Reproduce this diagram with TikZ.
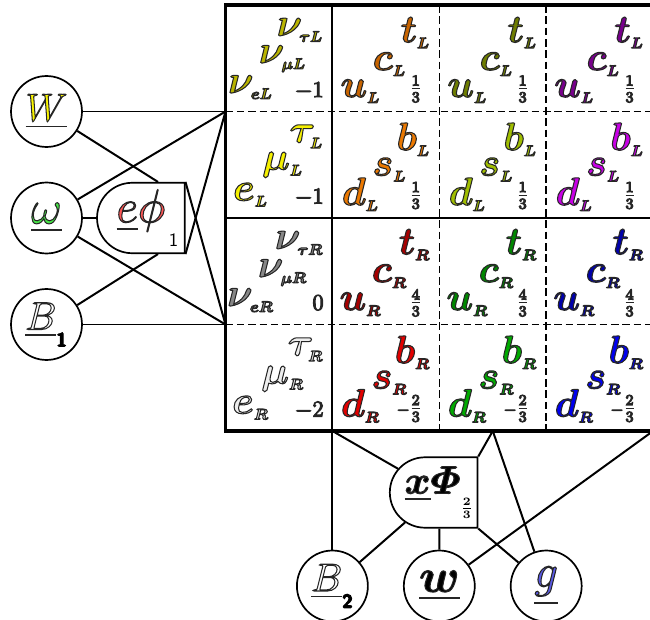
\documentclass[tikz,border=0pt]{standalone}
\usepackage{amsmath,amssymb,xcolor,bm}
\usepackage{tikz}
\usetikzlibrary{calc,shapes.misc}

% outlined coloured glyphs (fill + thin dark stroke)
\newcommand{\olt}[2]{{\color{#1}\special{pdf:literal direct 2 Tr 0.55 w 0.15 0.15 0.15 RG}#2\special{pdf:literal direct 0 Tr}}}
\newcommand{\sbx}[1]{\mbox{\fontsize{8.5}{9}\selectfont$\bm{#1}$}}
\newcommand{\fm}[2]{$\bm{#1}_{\sbx{#2}}$}
\newcommand{\sfx}[2][-4pt]{\raisebox{#1}{\fontsize{10}{10}\selectfont\sffamily #2}}

\begin{document}
\begin{tikzpicture}[x=0.0186cm,y=-0.0186cm,
  boson/.style={circle,draw,line width=.9pt,minimum size=1.32cm,inner sep=0pt,font=\fontsize{20.74}{25}\selectfont},
  big/.style={font=\fontsize{24.88}{30}\selectfont},
  higgs/.style={rounded rectangle,rounded rectangle right arc=none,draw,line width=.9pt,
    minimum width=1.63cm,minimum height=1.31cm,inner sep=0pt,font=\fontsize{20.74}{25}\selectfont},
  link/.style={line width=1.05pt},
  gen/.style={inner sep=0pt,font=\fontsize{20.74}{25}\selectfont},
  chg/.style={inner sep=0pt,font=\fontsize{12}{14}\selectfont},
  frc/.style={inner sep=0pt,font=\fontsize{12}{14}\selectfont}]
\definecolor{nuL}{RGB}{185,180,0}
\definecolor{elL}{RGB}{245,240,0}
\definecolor{nuR}{RGB}{135,135,135}
\definecolor{elR}{RGB}{238,238,238}
\definecolor{redLu}{RGB}{200,100,0}
\definecolor{redLd}{RGB}{235,120,0}
\definecolor{redRu}{RGB}{165,0,0}
\definecolor{redRd}{RGB}{225,0,0}
\definecolor{grnLu}{RGB}{110,125,0}
\definecolor{grnLd}{RGB}{160,190,0}
\definecolor{grnRu}{RGB}{0,135,0}
\definecolor{grnRd}{RGB}{0,170,0}
\definecolor{bluLu}{RGB}{120,0,140}
\definecolor{bluLd}{RGB}{200,0,230}
\definecolor{bluRu}{RGB}{0,0,170}
\definecolor{bluRd}{RGB}{0,0,240}
\definecolor{Wcol}{RGB}{250,245,0}
\definecolor{omcol}{RGB}{70,230,70}
\definecolor{phcol}{RGB}{255,85,85}
\definecolor{gcol}{RGB}{90,90,230}
\definecolor{ink}{RGB}{40,40,40}
\useasboundingbox (0,0) rectangle (650,620);
%% --- table of fermions (4 cells across, 4 down) ---
\draw[line width=.8pt,dash pattern=on 4pt off 2pt] (439.3,5) -- (439.3,431);
\draw[line width=.8pt,dash pattern=on 4pt off 2pt] (546.2,5) -- (546.2,431);
\draw[line width=.8pt,dash pattern=on 4pt off 2pt] (225.5,111.5) -- (653.1,111.5);
\draw[line width=.8pt,dash pattern=on 4pt off 2pt] (225.5,324.5) -- (653.1,324.5);
\draw[line width=1pt] (332.4,5) -- (332.4,431);
\draw[line width=1pt] (225.5,218) -- (653.1,218);
\draw[line width=1.6pt] (225.5,5) rectangle (653.1,431);
\coordinate (lmid) at (225.5,111.5);
\coordinate (rmid) at (225.5,324.5);
\coordinate (qleft) at (332.4,431);
\coordinate (qmid) at (492.8,431);
\coordinate (qright) at (653.1,431);
%% --- leptons ---
\node[gen,anchor=north east] (ntauL) at (323.5,18) {\olt{nuL}{\fm{\nu}{\tau L}}};
\node[gen,anchor=base] (nmuL) at (282.5,63) {\olt{nuL}{\fm{\nu}{\mu L}}};
\node[gen,anchor=base] (neL) at (250.5,93) {\olt{nuL}{\fm{\nu}{eL}}};
\node[chg,anchor=base east] (qnL) at (324,97) {\olt{ink}{$-1$}};
\node[gen,anchor=north east] (tauL) at (323.5,124.5) {\olt{elL}{\fm{\tau}{L}}};
\node[gen,anchor=base] (muL) at (282.5,169.5) {\olt{elL}{\fm{\mu}{L}}};
\node[gen,anchor=base] (eL) at (250.5,200.5) {\olt{elL}{\fm{e}{L}}};
\node[chg,anchor=base east] (qeL) at (324,203.5) {\olt{ink}{$-1$}};
\node[gen,anchor=north east] (ntauR) at (323.5,231) {\olt{nuR}{\fm{\nu}{\tau R}}};
\node[gen,anchor=base] (nmuR) at (282.5,277) {\olt{nuR}{\fm{\nu}{\mu R}}};
\node[gen,anchor=base] (neR) at (250.5,306) {\olt{nuR}{\fm{\nu}{eR}}};
\node[chg,anchor=base east] (qnR) at (324,310) {\olt{ink}{$0$}};
\node[gen,anchor=north east] (tauR) at (323.5,337.5) {\olt{elR}{\fm{\tau}{R}}};
\node[gen,anchor=base] (muR) at (282.5,383.5) {\olt{elR}{\fm{\mu}{R}}};
\node[gen,anchor=base] (eR) at (250.5,413.5) {\olt{elR}{\fm{e}{R}}};
\node[chg,anchor=base east] (qeR) at (324,416.5) {\olt{ink}{$-2$}};
%% --- quarks, one column per colour ---
\foreach \x/\cu/\cd/\cU/\cD [count=\k] in {332.4/redLu/redLd/redRu/redRd,
    439.3/grnLu/grnLd/grnRu/grnRd, 546.2/bluLu/bluLd/bluRu/bluRd}{
  \node[gen,anchor=north east] (tL\k) at (\x+98,17) {\olt{\cu}{\fm{t}{L}}};
  \node[gen,anchor=base] (cL\k) at (\x+57,70) {\olt{\cu}{\fm{c}{L}}};
  \node[gen,anchor=base] (uL\k) at (\x+28,97) {\olt{\cu}{\fm{u}{L}}};
  \node[frc,anchor=east] (quL\k) at (\x+90,89) {\olt{ink}{$\frac{1}{3}$}};
  \node[gen,anchor=north east] (bL\k) at (\x+98,122.5) {\olt{\cd}{\fm{b}{L}}};
  \node[gen,anchor=base] (sL\k) at (\x+57,175.5) {\olt{\cd}{\fm{s}{L}}};
  \node[gen,anchor=base] (dL\k) at (\x+28,205) {\olt{\cd}{\fm{d}{L}}};
  \node[frc,anchor=east] (qdL\k) at (\x+90,195.5) {\olt{ink}{$\frac{1}{3}$}};
  \node[gen,anchor=north east] (tR\k) at (\x+98,229) {\olt{\cU}{\fm{t}{R}}};
  \node[gen,anchor=base] (cR\k) at (\x+57,282) {\olt{\cU}{\fm{c}{R}}};
  \node[gen,anchor=base] (uR\k) at (\x+28,310) {\olt{\cU}{\fm{u}{R}}};
  \node[frc,anchor=east] (quR\k) at (\x+90,303) {\olt{ink}{$\frac{4}{3}$}};
  \node[gen,anchor=north east] (bR\k) at (\x+98,335.5) {\olt{\cD}{\fm{b}{R}}};
  \node[gen,anchor=base] (sR\k) at (\x+57,388.5) {\olt{\cD}{\fm{s}{R}}};
  \node[gen,anchor=base] (dR\k) at (\x+28,416.5) {\olt{\cD}{\fm{d}{R}}};
  \node[frc,anchor=east] (qdR\k) at (\x+90,408.5) {\olt{ink}{${\scriptstyle-}\frac{2}{3}$}};
}
%% --- bosons on the left ---
\node[boson] (W) at (46.5,111.5) {\olt{Wcol}{$\underline{W}$}};
\node[boson,big] (om) at (46.5,218) {\olt{omcol}{$\underline{\omega}$}};
\node[boson] (B1) at (46.5,324.5) {\olt{white}{$\underline{B}_{\color{black}\sfx{\bfseries 1}}$}};
\node[higgs,big] (ephi) at (148,218) {\olt{phcol}{$\underline{e}\phi$}$_{\kern2pt\sfx[-9pt]{1}}$};
\draw[link] (W) -- (lmid);
\draw[link] (W) -- ($(ephi.north)+(10,0)$);
\draw[link] (om) -- (ephi);
\draw[link] (om) -- (lmid);
\draw[link] (om) -- (rmid);
\draw[link] (B1) -- (rmid);
\draw[link] (B1) -- ($(ephi.south)+(10,0)$);
\draw[link] (ephi.north east) -- (rmid);
\draw[link] (ephi.south east) -- (lmid);
%% --- bosons below ---
\node[higgs] (xphi) at (439.3,492.5) {\olt{black}{$\underline{\bm{x}}\bm{\varPhi}$}$_{\raisebox{-7pt}{\fontsize{9}{9}\selectfont$\bm{\frac{2}{3}}$}}$};
\node[boson] (B2) at (332.4,586) {\olt{white}{$\underline{B}_{\color{black}\sfx{\bfseries 2}}$}};
\node[boson,big] (w) at (439.3,586) {\olt{black}{$\underline{\bm{w}}$}};
\node[boson,big] (g) at (546.2,586) {\olt{gcol}{$\underline{g}$}};
\draw[link] (B2) -- (qleft);
\draw[link] (qleft) -- (xphi);
\draw[link] (B2) -- (xphi);
\draw[link] (w) -- (xphi);
\draw[link] (w) -- (qright);
\draw[link] (xphi.north east) -- (qmid);
\draw[link] (qmid) -- (g);
\draw[link] (xphi.south east) -- (g);
\end{tikzpicture}
\end{document}
